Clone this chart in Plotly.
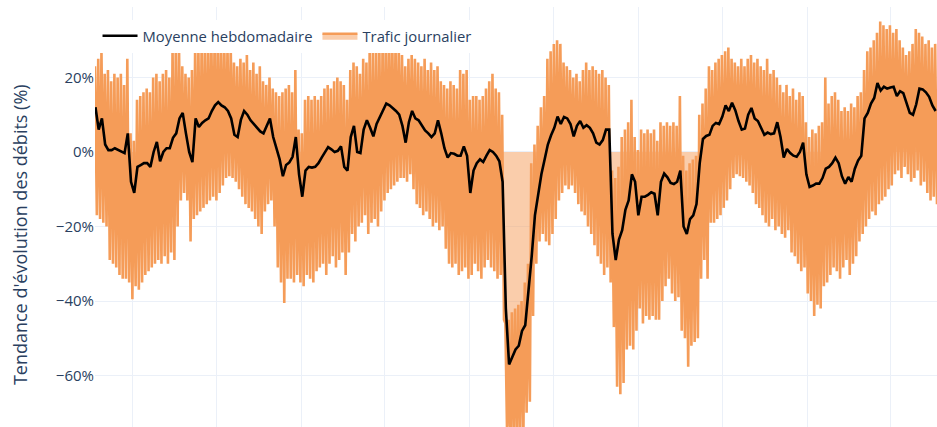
import numpy as np
import pandas as pd
import plotly.graph_objects as go

# Weekly calendar: one entry per week, starting Monday 2017-10-09
week_start = pd.date_range("2017-10-09", periods=261, freq="7D")

# Weekly moving average of traffic flow change (%)
moyenne_hebdo = [
    12, 6, 9, 2, 0.5, 0.5, 1, 0.5, 0, -0.3,
    5, -8, -11, -4, -3.5, -3, -3, -4, 0, 2.7,
    -2.5, 0, 1, 1, 3.8, 5, 9, 10.5, 5, 0,
    -2.7, 9, 6.7, 7.8, 8.5, 9, 11, 12.5, 13.4, 12.5,
    12, 11, 9, 4.6, 4, 8.6, 11, 10, 8.5, 7.5,
    6.8, 5.5, 5, 7, 9, 4, 1, -2, -6.5, -3.5,
    -2.8, -1.3, 4, -6, -12, -5, -4, -4.2, -4, -3,
    -1.5, 0, 1.3, 0.7, 0, 0.3, 1.5, -4, -5, 4,
    7, 0, -0.3, 6, 8.5, 6.5, 4.2, 7.5, 9.5, 11.3,
    13, 12.5, 11.8, 11, 10, 7, 2.5, 8, 11, 9,
    8.5, 7, 5.8, 5, 4, 5, 8.5, 5, 1, -1.5,
    -0.3, -0.5, -1, -1, 1.5, -1, -11, -5, -3, -2,
    -2.7, -1, 0.5, 0, -1, -2.5, -8, -42, -57, -55,
    -53, -52, -48, -46.5, -38, -28, -17, -11, -6, -2,
    2, 4.5, 6.5, 9.5, 7.5, 9.4, 9, 7.5, 4.2, 7,
    8.3, 6.5, 7.2, 6.5, 5, 2.5, 2, 3.2, 6, 6,
    -22, -29, -23.5, -21, -15.5, -13, -6, -8, -17, -12,
    -12, -11.5, -10.8, -11.2, -17, -8, -5.8, -6.8, -8.3, -8.6,
    -8, -5, -20, -22, -18, -17, -14, -3, 3.5, 4.3,
    4.6, 7, 7.8, 7.5, 9.5, 12.5, 11, 13.2, 11.2, 8.3,
    6, 6.3, 10, 11.8, 9, 8.3, 6.5, 4.6, 5.2, 4.8,
    5, 8, 4, -1.5, 0.8, -0.3, -1, -1.3, 0, 2.5,
    -6, -9.4, -9, -8.5, -8.5, -7, -4.5, -4, -3, -1.5,
    -3, -6.5, -8.5, -6.7, -8, -4.5, -2.3, -1, 9, 10.5,
    13, 14.5, 18.5, 16.5, 17.5, 17, 17.3, 17.5, 15, 16.3,
    15.8, 13, 10.5, 10, 12.8, 17, 16.8, 16, 14.8, 12.5,
    11,
]

# Daily traffic: weekday level (high) and weekend level (low) for each week
trafic_semaine = [
    23, 25, 27, 21, 22, 19, 21, 20, 21, 18,
    25, 5, 3, 14, 15, 16, 17, 16, 20, 21,
    19, 21, 22, 20, 28, 29, 28, 23, 21, 20,
    22, 29, 28, 30, 29, 30, 31, 30, 31, 29,
    30, 28, 28, 24, 23, 25, 24, 26, 22, 24,
    21, 23, 19, 18, 20, 17, 16, 15, 16, 17,
    18, 16, 22, 6, 5, 14, 15, 14, 15, 14,
    15, 17, 18, 17, 19, 20, 19, 18, 14, 22,
    24, 23, 21, 25, 24, 28, 27, 29, 28, 30,
    29, 31, 30, 29, 28, 26, 23, 25, 26, 25,
    24, 23, 25, 22, 24, 22, 23, 19, 18, 17,
    19, 18, 17, 22, 21, 22, 14, 15, 15, 14,
    15, 17, 19, 21, 17, 16, 10, -46, -45, -43,
    -42, -41, -40, -35, -30, -3, 2, 7, 12, 15,
    25, 27, 29, 30, 29, 24, 23, 22, 20, 21,
    19, 22, 24, 22, 23, 22, 21, 22, 20, 18,
    -5, -7, -4, 4, 6, 8, 14, 4, 0.5, 6,
    5, 6, 5, 6, 3, 8, 7, 8, 7, 8,
    7, 15, -1, -5, -3, -2, -1, 10, 13, 17,
    23, 22, 24, 25, 26, 27, 28, 25, 24, 23,
    25, 23, 25, 26, 24, 25, 23, 22, 25, 21,
    22, 20, 18, 16, 18, 15, 17, 14, 16, 15,
    8, 4, 6, 5, 7, 8, 20, 13, 15, 16,
    14, 11, 12, 11, 13, 12, 15, 16, 22, 27,
    28, 30, 32, 35, 34, 33, 34, 32, 33, 30,
    28, 26, 27, 29, 33, 32, 31, 29, 30, 28,
    29,
]

trafic_weekend = [
    -17, -18, -19, -20, -29, -30, -31, -33, -34, -34,
    -35, -39.5, -36, -37, -35, -33, -32, -31, -30, -29,
    -30, -28, -30, -27, -29, -20, -13, -11, -13, -24,
    -18, -17, -16, -15, -14, -13, -12, -13, -11, -9,
    -7, -6.5, -7, -8, -10, -12, -14, -15, -16, -18,
    -20, -22, -16, -14, -13, -20, -31, -35, -40.5, -34,
    -34, -35, -33, -35, -36, -33, -34, -35, -32, -31,
    -30, -33, -30, -28, -31, -29, -27, -33, -27, -22,
    -24, -20, -19, -17, -22, -19, -18, -20, -16, -13,
    -11, -10, -9, -8, -7, -7, -8, -6, -10, -14,
    -15, -17, -16, -18, -20, -19, -21, -20, -26, -30,
    -31, -30, -33, -32, -31, -34, -33, -30, -32, -34,
    -31, -29, -31, -32, -34, -33, -45, -78, -80, -77,
    -79, -78, -76, -70, -67, -44, -30, -24, -22, -24,
    -25, -22, -18, -13, -11, -9, -10, -9, -11, -14,
    -16, -17, -20, -22, -25, -28, -30, -33, -31, -35,
    -47, -63, -65, -62, -53, -52, -53, -48, -42, -46,
    -44, -45, -44, -45, -45, -40, -36, -34, -38, -40,
    -39, -48, -50, -57.6, -52, -51, -50, -34, -29, -34,
    -19, -19, -18, -17, -15, -13, -10, -7, -6, -6.5,
    -7, -8, -9, -11, -14, -15, -17, -19, -20, -18,
    -21, -20, -22, -23, -21, -27, -28, -30, -32, -31,
    -38, -40, -44, -41, -42, -36, -35, -33, -31, -32,
    -34, -31, -29, -33, -30, -28, -24, -22, -20, -18,
    -16, -17, -14, -13, -12, -10, -9, -6, -5, -7,
    -4, -6, -8, -7, -5, -9, -8, -11, -13, -12,
    -14,
]

y_ticks = [-60, -40, -20, 0, 20]
y_tick_labels = ["−60%", "−40%", "−20%", "0%", "20%"]

# Daily series: weekday peak (Wednesday) then weekend trough (Sunday)
jours_haut = week_start + pd.Timedelta(days=2)
jours_bas = week_start + pd.Timedelta(days=6)
x_journalier = np.empty(2 * len(week_start), dtype="datetime64[ns]")
x_journalier[0::2] = jours_haut.values
x_journalier[1::2] = jours_bas.values
y_journalier = np.empty(2 * len(week_start))
y_journalier[0::2] = trafic_semaine
y_journalier[1::2] = trafic_weekend

x_moyenne = week_start + pd.Timedelta(days=3)

fig = go.Figure()
fig.add_trace(go.Scatter(
    x=x_journalier, y=y_journalier, mode="lines",
    name="Trafic journalier",
    line=dict(color="rgb(245,156,88)", width=2.6),
    fill="tozeroy", fillcolor="rgba(245,156,88,0.5)",
))
fig.add_trace(go.Scatter(
    x=x_moyenne, y=moyenne_hebdo, mode="lines",
    name="Moyenne hebdomadaire",
    line=dict(color="black", width=2.6),
))

fig.update_layout(
    template="plotly_white",
    width=937, height=427,
    margin=dict(l=95, r=0, t=7, b=0),
    font=dict(family="Open Sans, verdana, arial, sans-serif", size=15),
    showlegend=True,
    legend=dict(
        orientation="h", x=0.003, y=0.97, xanchor="left", yanchor="top",
        bgcolor="white", traceorder="reversed", font=dict(size=14.8),
        itemwidth=35,
    ),
    annotations=[dict(
        text="Tendance d'évolution des débits (%)",
        xref="paper", yref="paper", x=-0.089, y=0.457,
        xanchor="center", yanchor="middle", textangle=-90,
        showarrow=False, font=dict(size=18, color="#2a3f5f"),
    )],
)
fig.update_xaxes(
    showticklabels=False, dtick="M6", tick0="2018-01-01",
    showgrid=True, gridcolor="#EBF0F8", zeroline=False,
)
fig.update_yaxes(
    range=[-73.8, 38.9], tickmode="array", tickvals=y_ticks,
    ticktext=y_tick_labels, gridcolor="#EBF0F8", zeroline=False,
)

fig.write_html("out.html")
